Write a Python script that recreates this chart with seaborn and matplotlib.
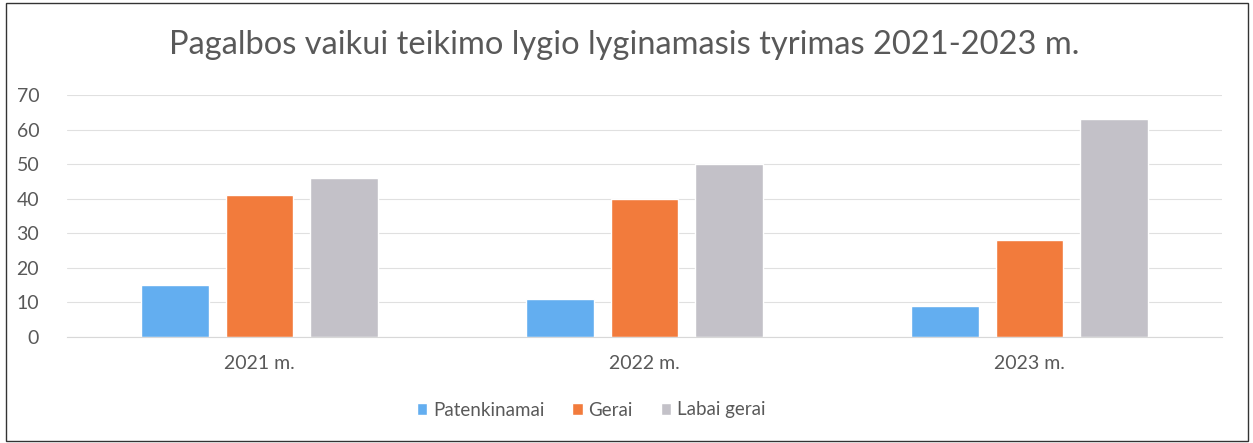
import matplotlib
matplotlib.use("Agg")
import matplotlib.pyplot as plt
import seaborn as sns
import pandas as pd
from matplotlib.patches import Rectangle

# Data
years = ["2021 m.", "2022 m.", "2023 m."]
series = ["Patenkinamai", "Gerai", "Labai gerai"]
patenkinamai = [15, 11, 9]
gerai = [41, 40, 28]
labai_gerai = [46, 50, 63]
yticks = [0, 10, 20, 30, 40, 50, 60, 70]
title = "Pagalbos vaikui teikimo lygio lyginamasis tyrimas 2021-2023 m."

colors = ["#63aef0", "#f27b3c", "#c3c1c8"]
text_color = "#595959"

df = pd.DataFrame({
    "year": years * 3,
    "series": [series[0]] * 3 + [series[1]] * 3 + [series[2]] * 3,
    "value": patenkinamai + gerai + labai_gerai,
})

sns.set_theme(style="white")
plt.rcParams["font.family"] = ["Lato", "DejaVu Sans"]

W, H = 1253, 443
fig = plt.figure(figsize=(W / 100, H / 100), dpi=100)
ax = fig.add_axes([67 / W, 1 - 337 / H, (1222 - 67) / W, (337 - 95) / H])

sns.barplot(data=df, x="year", y="value", hue="series", hue_order=series,
            palette=colors, width=0.66, gap=0.2, ax=ax, legend=True,
            saturation=1)

ax.set_ylim(0, 70)
ax.set_xlim(-0.5, 2.5)
ax.set_yticks(yticks)
ax.set_yticklabels([str(v) for v in yticks], fontsize=14, color=text_color)
ax.tick_params(axis="y", length=0, pad=20)
ax.tick_params(axis="x", length=0, pad=13, labelsize=14, labelcolor=text_color)
ax.set_xlabel("")
ax.set_ylabel("")
ax.grid(axis="y", color="#e0e0e0", linewidth=0.8)
ax.set_axisbelow(True)
for s in ["top", "right", "left"]:
    ax.spines[s].set_visible(False)
ax.spines["bottom"].set_color("#d8d8d8")
ax.spines["bottom"].set_linewidth(0.8)

handles, labels = ax.get_legend_handles_labels()
ax.legend_.remove()
fig.legend(handles, labels, loc="center", bbox_to_anchor=(591 / W, 1 - 410 / H),
           ncol=3, frameon=False, fontsize=13.5, handlelength=0.55, handleheight=0.55,
           handletextpad=0.3, columnspacing=1.5, labelcolor=text_color)

fig.text(624 / W, 1 - 45 / H, title, ha="center", va="center", fontsize=23.5,
         color=text_color)

fig.patches.append(Rectangle((6 / W, 1 - 441 / H), (1248 - 6) / W, (441 - 3) / H,
                             transform=fig.transFigure, fill=False,
                             edgecolor="#333333", linewidth=1.0))

fig.savefig("out.png", dpi=100, facecolor="white")
